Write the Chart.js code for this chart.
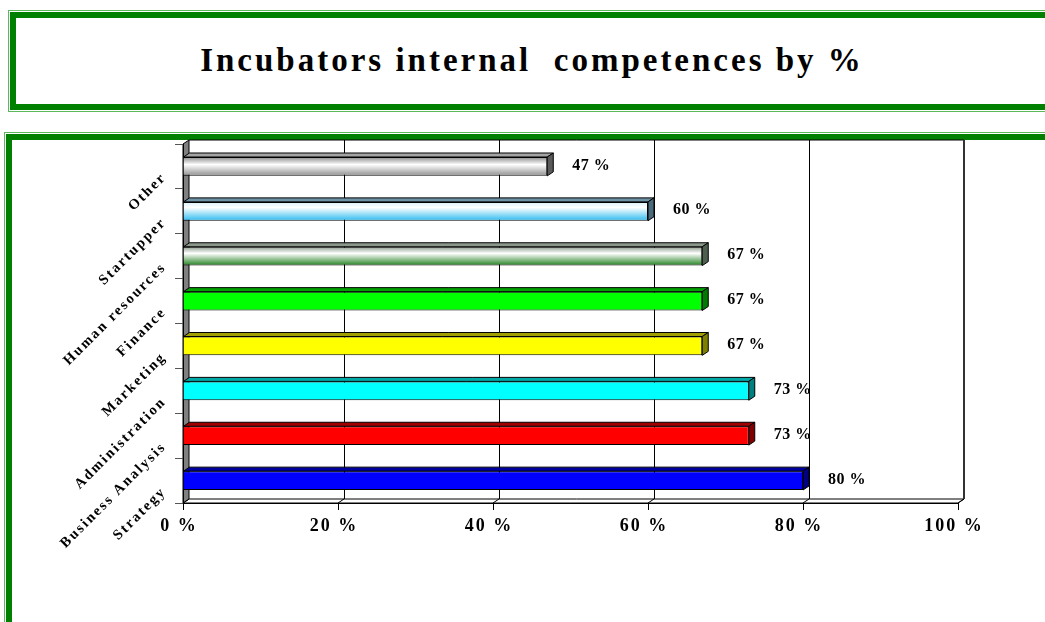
<!DOCTYPE html>
<html lang="en">
<head>
<meta charset="utf-8">
<title>Incubators internal competences by %</title>
<style>
  html, body { margin: 0; padding: 0; background: #fff; width: 1045px; height: 622px; overflow: hidden; }
  .box { position: absolute; box-sizing: border-box; border: 6px solid #008000; outline: 1px solid #5cb85c; outline-offset: 1px; background: #fff; }
  #titleBox { left: 10px; top: 12px; width: 1100px; height: 98px; }
  #chartBox { left: 6px; top: 134px; width: 1100px; height: 600px; }
  h1 { position: absolute; left: 0; top: 44px; width: 1064px; margin: 0; text-align: center;
       font: bold 33px/32px "Liberation Serif", "Times New Roman", serif; letter-spacing: 3px; white-space: pre; color: #000; }
  #chartCanvas { position: absolute; left: 0; top: 0; }
</style>
</head>
<body>
<div class="box" id="titleBox"></div>
<div class="box" id="chartBox"></div>
<h1>Incubators internal  competences by %</h1>
<canvas id="chartCanvas" width="1045" height="622"></canvas>

<script src="https://cdn.jsdelivr.net/npm/chart.js"></script>
<script>
  // competences, listed top to bottom as they appear on the axis
  const competences = ['Other', 'Startupper', 'Human resources', 'Finance', 'Marketing', 'Administration', 'Business Analysis', 'Strategy'];
  const sharePct = [47, 60, 67, 67, 67, 73, 73, 80];
  const pctTicks = [0, 20, 40, 60, 80, 100];

  // front / top / side colours of each bar
  const barLook = [
    { front: [[0, '#8a8a8a'], [0.4, '#ffffff'], [1, '#8e8e8e']], top: '#a4a4a4', side: '#5a5a5a' },
    { front: [[0, '#d6f1fb'], [0.3, '#ffffff'], [1, '#2dbcf0']], top: '#6f93a6', side: '#4b6a7c' },
    { front: [[0, '#8e9c8e'], [0.35, '#ffffff'], [1, '#1f801f']], top: '#8a978a', side: '#4f5f4f' },
    { front: '#00ff00', top: '#00a000', side: '#007a00' },
    { front: '#ffff00', top: '#a0a000', side: '#808000' },
    { front: '#00ffff', top: '#00a8a8', side: '#008080' },
    { front: '#ff0000', top: '#a00000', side: '#800000' },
    { front: '#0000ff', top: '#0000a0', side: '#000080' },
  ];

  const DX = 6, DY = -4;   // depth of the 3d effect
  const BAR_PCT = 0.42;

  function frontFill(c) {
    const look = barLook[c.dataIndex];
    if (typeof look.front === 'string') return look.front;
    const chart = c.chart, ys = chart.scales.y, area = chart.chartArea;
    if (!ys || !area) return look.front[1][1];
    const mid = ys.getPixelForValue(c.dataIndex);
    const half = (area.bottom - area.top) / competences.length * BAR_PCT / 2;
    const g = chart.ctx.createLinearGradient(0, mid - half, 0, mid + half);
    look.front.forEach(s => g.addColorStop(s[0], s[1]));
    return g;
  }

  const frame3d = {
    id: 'frame3d',
    beforeDraw(chart) {
      const ctx = chart.ctx, xs = chart.scales.x;
      const { left, right, top, bottom } = chart.chartArea;
      ctx.save();
      ctx.lineWidth = 1;
      ctx.strokeStyle = '#000';
      // back wall
      ctx.fillStyle = '#fff';
      ctx.fillRect(left + DX, top + DY, right - left, bottom - top);
      ctx.beginPath();
      ctx.moveTo(left + DX, top + DY);
      ctx.lineTo(right + DX, top + DY);
      ctx.stroke();
      // grid on the wall and the floor
      pctTicks.slice(1).forEach(v => {
        const px = xs.getPixelForValue(v);
        ctx.beginPath();
        ctx.moveTo(Math.round(px + DX) + 0.5, top + DY);
        ctx.lineTo(Math.round(px + DX) + 0.5, bottom + DY);
        ctx.stroke();
      });
      // floor
      ctx.beginPath();
      ctx.moveTo(left, bottom);
      ctx.lineTo(right, bottom);
      ctx.lineTo(right + DX, bottom + DY);
      ctx.lineTo(left + DX, bottom + DY);
      ctx.closePath();
      ctx.fill();
      ctx.stroke();
      pctTicks.forEach(v => {
        const px = xs.getPixelForValue(v);
        ctx.beginPath();
        ctx.moveTo(px, bottom);
        ctx.lineTo(px + DX, bottom + DY);
        ctx.stroke();
      });
      // right edge of the wall
      ctx.lineWidth = 2;
      ctx.strokeStyle = '#333';
      ctx.beginPath();
      ctx.moveTo(right + DX, top + DY);
      ctx.lineTo(right + DX, bottom + DY);
      ctx.stroke();
      // left wall
      ctx.lineWidth = 1;
      ctx.strokeStyle = '#000';
      ctx.fillStyle = '#808080';
      ctx.beginPath();
      ctx.moveTo(left, top);
      ctx.lineTo(left + DX, top + DY);
      ctx.lineTo(left + DX, bottom + DY);
      ctx.lineTo(left, bottom);
      ctx.closePath();
      ctx.fill();
      ctx.stroke();
      ctx.restore();
      ctx.letterSpacing = '2px';
    },
    afterDatasetsDraw(chart) {
      const ctx = chart.ctx;
      ctx.save();
      ctx.lineWidth = 1;
      ctx.strokeStyle = '#000';
      chart.getDatasetMeta(0).data.forEach((bar, i) => {
        const look = barLook[i];
        const t = bar.y - bar.height / 2, b = bar.y + bar.height / 2;
        ctx.fillStyle = look.top;
        ctx.beginPath();
        ctx.moveTo(bar.base, t);
        ctx.lineTo(bar.x, t);
        ctx.lineTo(bar.x + DX, t + DY);
        ctx.lineTo(bar.base + DX, t + DY);
        ctx.closePath();
        ctx.fill();
        ctx.stroke();
        ctx.fillStyle = look.side;
        ctx.beginPath();
        ctx.moveTo(bar.x, t);
        ctx.lineTo(bar.x + DX, t + DY);
        ctx.lineTo(bar.x + DX, b + DY);
        ctx.lineTo(bar.x, b);
        ctx.closePath();
        ctx.fill();
        ctx.stroke();
      });
      // value labels
      ctx.letterSpacing = '0.5px';
      ctx.font = 'bold 16px "Liberation Serif", serif';
      ctx.fillStyle = '#000';
      ctx.textAlign = 'left';
      ctx.textBaseline = 'middle';
      chart.getDatasetMeta(0).data.forEach((bar, i) => {
        ctx.fillText(sharePct[i] + ' %', bar.x + 25, bar.y - 1);
      });
      ctx.restore();
    },
    afterDraw(chart) {
      chart.ctx.letterSpacing = '0px';
    }
  };

  new Chart(document.getElementById('chartCanvas'), {
    type: 'bar',
    data: {
      labels: competences,
      datasets: [{
        data: sharePct,
        backgroundColor: frontFill,
        borderColor: '#000',
        borderWidth: 1,
        barPercentage: BAR_PCT,
        categoryPercentage: 1,
      }]
    },
    options: {
      indexAxis: 'y',
      responsive: false,
      animation: false,
      devicePixelRatio: 1,
      layout: { padding: { left: 0, top: 144, right: 87, bottom: 79 } },
      plugins: { legend: { display: false }, tooltip: { enabled: false }, title: { display: false } },
      scales: {
        x: {
          min: 0, max: 100,
          afterFit: s => { s.height = 40; },
          afterBuildTicks: s => { s.ticks = pctTicks.map(v => ({ value: v })); },
          grid: { drawOnChartArea: false, tickLength: 7, color: '#000' },
          border: { color: '#000', width: 1 },
          ticks: {
            callback: v => v + ' %',
            color: '#000',
            padding: 6,
            labelOffset: -4,
            maxRotation: 0,
            font: { family: '"Liberation Serif", serif', size: 18, weight: 'bold' }
          }
        },
        y: {
          afterFit: s => { s.width = 183; },
          grid: { drawOnChartArea: false, tickLength: 8, color: '#555', offset: true },
          border: { color: '#000', width: 1 },
          ticks: {
            autoSkip: false,
            minRotation: 45,
            maxRotation: 45,
            padding: 11,
            labelOffset: 9,
            color: '#000',
            font: { family: '"Liberation Serif", serif', size: 14.5, weight: 'bold' }
          }
        }
      }
    },
    plugins: [frame3d]
  });
</script>
</body>
</html>
